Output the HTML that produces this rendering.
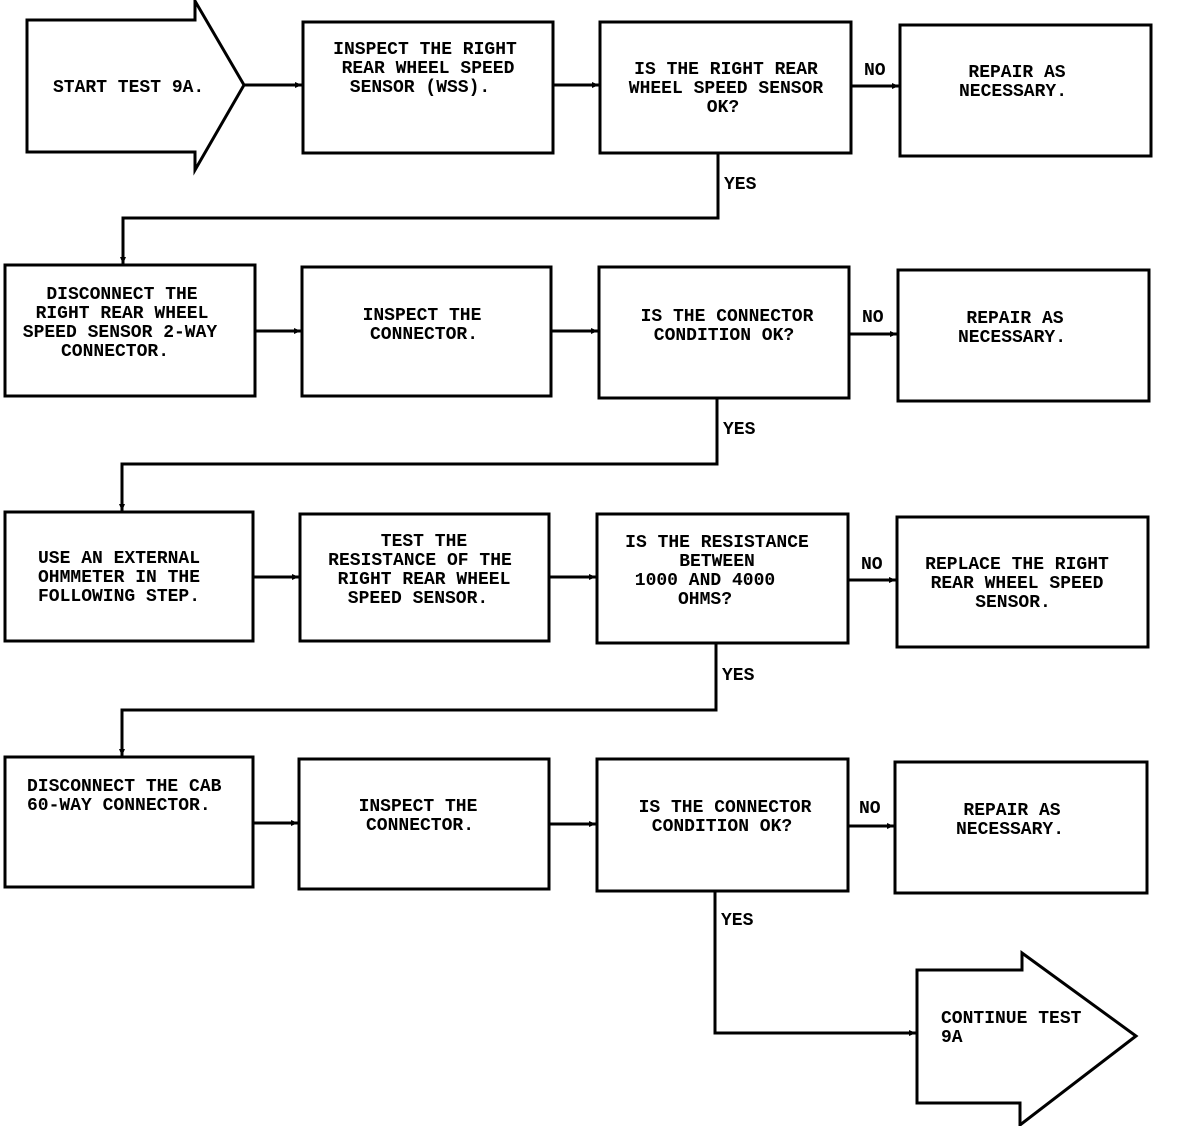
<!DOCTYPE html>
<html><head><meta charset="utf-8"><style>
html,body{margin:0;padding:0;background:#fff}
svg text{font-family:"Liberation Mono",monospace;font-size:18px;font-weight:bold;fill:#000}
</style></head><body>
<svg width="1184" height="1126" viewBox="0 0 1184 1126" xmlns="http://www.w3.org/2000/svg">
<defs><marker id="a" markerWidth="8" markerHeight="8" refX="7" refY="4" orient="auto" markerUnits="userSpaceOnUse"><path d="M0,1 L7,4 L0,7z" fill="#000"/></marker></defs>
<g fill="none" stroke="#000" stroke-width="3">
<path d="M27,20 H195 V1 L244,85 L195,170 V152 H27 Z"/>
<rect x="303" y="22" width="250" height="131"/>
<rect x="600" y="22" width="251" height="131"/>
<rect x="900" y="25" width="251" height="131"/>
<rect x="5" y="265" width="250" height="131"/>
<rect x="302" y="267" width="249" height="129"/>
<rect x="599" y="267" width="250" height="131"/>
<rect x="898" y="270" width="251" height="131"/>
<rect x="5" y="512" width="248" height="129"/>
<rect x="300" y="514" width="249" height="127"/>
<rect x="597" y="514" width="251" height="129"/>
<rect x="897" y="517" width="251" height="130"/>
<rect x="5" y="757" width="248" height="130"/>
<rect x="299" y="759" width="250" height="130"/>
<rect x="597" y="759" width="251" height="132"/>
<rect x="895" y="762" width="252" height="131"/>
<path d="M917,970 H1022 V953 L1136,1036 L1020,1125 V1103 H917 Z"/>
</g>
<g fill="none" stroke="#000" stroke-width="3" marker-end="url(#a)">
<path d="M244,85 H302"/><path d="M553,85 H599"/><path d="M851,86 H899"/>
<path d="M718,153 V218 H123 V264"/>
<path d="M255,331 H301"/><path d="M551,331 H598"/><path d="M849,334 H897"/>
<path d="M717,398 V464 H122 V511"/>
<path d="M253,577 H299"/><path d="M549,577 H596"/><path d="M848,580 H896"/>
<path d="M716,643 V710 H122 V756"/>
<path d="M253,823 H298"/><path d="M549,824 H596"/><path d="M848,826 H894"/>
<path d="M715,891 V1033 H916"/>
</g>
<text x="53" y="92">START TEST 9A.</text>
<g text-anchor="middle">
<text x="425" y="54">INSPECT THE RIGHT</text><text x="428" y="73">REAR WHEEL SPEED</text><text x="420" y="92">SENSOR (WSS).</text>
<text x="726" y="74">IS THE RIGHT REAR</text><text x="726" y="93">WHEEL SPEED SENSOR</text><text x="723" y="112">OK?</text>
<text x="1017" y="77">REPAIR AS</text><text x="1013" y="96">NECESSARY.</text>
<text x="122" y="299">DISCONNECT THE</text><text x="122" y="318">RIGHT REAR WHEEL</text><text x="120" y="337">SPEED SENSOR 2-WAY</text><text x="115" y="356">CONNECTOR.</text>
<text x="422" y="320">INSPECT THE</text><text x="424" y="339">CONNECTOR.</text>
<text x="727" y="321">IS THE CONNECTOR</text><text x="724" y="340">CONDITION OK?</text>
<text x="1015" y="323">REPAIR AS</text><text x="1012" y="342">NECESSARY.</text>
<text x="424" y="546">TEST THE</text><text x="420" y="565">RESISTANCE OF THE</text><text x="424" y="584">RIGHT REAR WHEEL</text><text x="418" y="603">SPEED SENSOR.</text>
<text x="717" y="547">IS THE RESISTANCE</text><text x="717" y="566">BETWEEN</text><text x="705" y="585">1000 AND 4000</text><text x="705" y="604">OHMS?</text>
<text x="1017" y="569">REPLACE THE RIGHT</text><text x="1017" y="588">REAR WHEEL SPEED</text><text x="1013" y="607">SENSOR.</text>
<text x="418" y="811">INSPECT THE</text><text x="420" y="830">CONNECTOR.</text>
<text x="725" y="812">IS THE CONNECTOR</text><text x="722" y="831">CONDITION OK?</text>
<text x="1012" y="815">REPAIR AS</text><text x="1010" y="834">NECESSARY.</text>
</g>
<text x="38" y="563">USE AN EXTERNAL</text><text x="38" y="582">OHMMETER IN THE</text><text x="38" y="601">FOLLOWING STEP.</text>
<text x="27" y="791">DISCONNECT THE CAB</text><text x="27" y="810">60-WAY CONNECTOR.</text>
<text x="941" y="1023">CONTINUE TEST</text><text x="941" y="1042">9A</text>
<g font-size="16">
<text x="864" y="75">NO</text><text x="724" y="189">YES</text>
<text x="862" y="322">NO</text><text x="723" y="434">YES</text>
<text x="861" y="569">NO</text><text x="722" y="680">YES</text>
<text x="859" y="813">NO</text><text x="721" y="925">YES</text>
</g>
</svg>
</body></html>
